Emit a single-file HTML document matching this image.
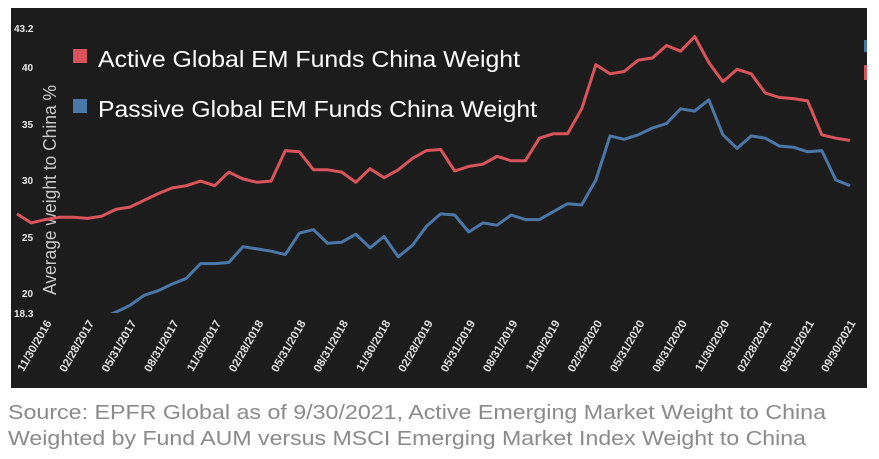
<!DOCTYPE html>
<html><head><meta charset="utf-8"><style>
body{margin:0;background:#fff;width:879px;height:459px;overflow:hidden}
svg{display:block}
</style></head><body>
<svg id="s" width="879" height="459" xmlns="http://www.w3.org/2000/svg" font-family="Liberation Sans, sans-serif">
<rect x="11" y="8" width="856" height="380" fill="#1c1c1c"/>
<defs><clipPath id="c"><rect x="11" y="20" width="856" height="293"/></clipPath></defs>
<g fill="#e8e8e8" font-size="10" font-weight="bold">
<text x="14" y="32">43.2</text><text x="22" y="71">40</text><text x="22" y="128">35</text><text x="22" y="184">30</text><text x="22" y="241">25</text><text x="22" y="297">20</text><text x="14" y="317">18.3</text>
</g>
<text transform="translate(56,190) rotate(-90)" text-anchor="middle" fill="#c8c8c8" font-size="18" textLength="210" lengthAdjust="spacingAndGlyphs">Average weight to China %</text>
<rect x="73" y="49" width="14" height="14" fill="#d9545a"/>
<text x="98" y="67" fill="#fff" font-size="23" textLength="422" lengthAdjust="spacingAndGlyphs">Active Global EM Funds China Weight</text>
<rect x="73" y="99" width="14" height="14" fill="#4a77a8"/>
<text x="98" y="117" fill="#fff" font-size="23" textLength="439" lengthAdjust="spacingAndGlyphs">Passive Global EM Funds China Weight</text>
<rect x="864" y="40" width="3" height="12" fill="#4a77a8"/>
<rect x="864" y="65" width="3" height="15" fill="#d9545a"/>
<g id="lines" clip-path="url(#c)" fill="none" stroke-width="3" stroke-linejoin="round"></g>
<g id="xl" fill="#ddd" font-size="11.5" font-weight="bold"></g>
<text x="8" y="419" fill="#8a8a8a" font-size="20" textLength="818" lengthAdjust="spacingAndGlyphs">Source: EPFR Global as of 9/30/2021, Active Emerging Market Weight to China</text>
<text x="8" y="445" fill="#8a8a8a" font-size="20" textLength="798" lengthAdjust="spacingAndGlyphs">Weighted by Fund AUM versus MSCI Emerging Market Index Weight to China</text>
</svg>
<script>
var a=[27.0,26.2,26.5,26.7,26.7,26.6,26.8,27.4,27.6,28.2,28.8,29.3,29.5,29.9,29.5,30.7,30.1,29.8,29.9,32.6,32.5,30.9,30.9,30.7,29.8,31.0,30.2,30.9,31.9,32.6,32.7,30.8,31.2,31.4,32.1,31.7,31.7,33.7,34.1,34.1,36.3,40.2,39.4,39.6,40.6,40.8,41.9,41.4,42.7,40.4,38.7,39.8,39.4,37.7,37.3,37.2,37.0,34.0,33.7,33.5];
var p=[16,16.5,17,17.2,17.4,17.6,17.8,18.3,18.9,19.8,20.2,20.8,21.3,22.6,22.6,22.7,24.1,23.9,23.7,23.4,25.3,25.6,24.4,24.5,25.2,24.0,25.0,23.2,24.2,25.9,27.0,26.9,25.4,26.2,26.0,26.9,26.5,26.5,27.2,27.9,27.8,30.0,33.9,33.6,34.0,34.6,35.0,36.3,36.1,37.1,34.0,32.8,33.9,33.7,33.0,32.9,32.5,32.6,30.0,29.5];
var X=function(i){return 17+i*833/59},Y=function(v){return 67+(40-v)*11.3};
function pl(d,c){return '<polyline stroke="'+c+'" points="'+d.map(function(v,i){return X(i).toFixed(1)+','+Y(v).toFixed(1)}).join(' ')+'"/>'}
document.getElementById('lines').innerHTML=pl(p,'#4a77a8')+pl(a,'#d9545a');
var L=['11/30/2016','02/28/2017','05/31/2017','08/31/2017','11/30/2017','02/28/2018','05/31/2018','08/31/2018','11/30/2018','02/28/2019','05/31/2019','08/31/2019','11/30/2019','02/29/2020','05/31/2020','08/31/2020','11/30/2020','02/28/2021','05/31/2021','09/30/2021'];
var h='';L.forEach(function(t,k){var x=k==19?856:X(k*3)+35;h+='<text text-anchor="end" transform="translate('+x.toFixed(1)+',323) rotate(-60)">'+t+'</text>'});
document.getElementById('xl').innerHTML=h;
</script>
</body></html>
